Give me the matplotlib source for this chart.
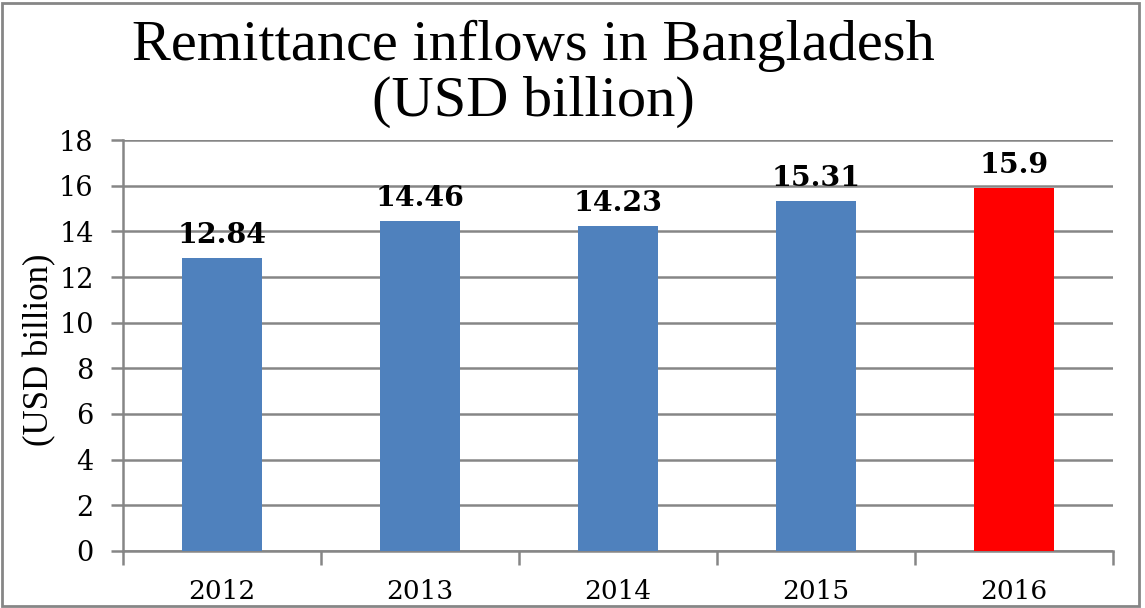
import numpy as np
import matplotlib.pyplot as plt
from matplotlib.patches import Rectangle

years = ['2012', '2013', '2014', '2015', '2016']
inflows = [12.84, 14.46, 14.23, 15.31, 15.9]
labels = ['12.84', '14.46', '14.23', '15.31', '15.9']
colours = ['#4F81BD', '#4F81BD', '#4F81BD', '#4F81BD', '#FF0000']

GRID = '#868686'

fig = plt.figure(figsize=(11.45, 6.08), dpi=100)
ax = fig.add_axes([0.1074, 0.0938, 0.8646, 0.6759])

x = np.arange(len(years))
ax.bar(x, inflows, width=0.4, color=colours, zorder=3)

for xi, v, lab in zip(x, inflows, labels):
    ax.annotate(lab, (xi, v), xytext=(0, 11), textcoords='offset points',
                ha='center', va='baseline', fontsize=20.5, fontweight='bold',
                family='DejaVu Serif', zorder=4)

ax.set_xlim(-0.5, 4.5)
ax.set_ylim(0, 18)
ax.set_yticks(np.arange(0, 19, 2))
ax.yaxis.grid(True, color=GRID, linewidth=1.8, zorder=0)

ax.set_xticks(x)
ax.set_xticklabels(years)
ax.set_xticks(np.arange(-0.5, 5, 1), minor=True)
ax.tick_params(axis='x', which='major', length=0, pad=20, labelsize=19)
ax.tick_params(axis='x', which='minor', length=10, width=1.8, color=GRID)
ax.tick_params(axis='y', length=9, width=1.8, color=GRID, pad=12, labelsize=19.5)
for lab in ax.get_xticklabels() + ax.get_yticklabels():
    lab.set_family('DejaVu Serif')

for side in ['top', 'right']:
    ax.spines[side].set_visible(False)
for side in ['left', 'bottom']:
    ax.spines[side].set_color(GRID)
    ax.spines[side].set_linewidth(1.8)

ax.set_ylabel('(USD billion)', family='Liberation Serif', fontsize=25)
ax.yaxis.set_label_coords(-0.067, 0.49)

fig.text(0.4655, 0.79, 'Remittance inflows in Bangladesh\n(USD billion)',
         ha='center', va='bottom', family='Liberation Serif', fontsize=42,
         linespacing=1.08)

# outer frame round the whole chart
fig.patches.append(Rectangle((0.002, 0.004), 0.993, 0.991, transform=fig.transFigure,
                             fill=False, edgecolor=GRID, linewidth=2))

fig.savefig('out.png', dpi=100)
